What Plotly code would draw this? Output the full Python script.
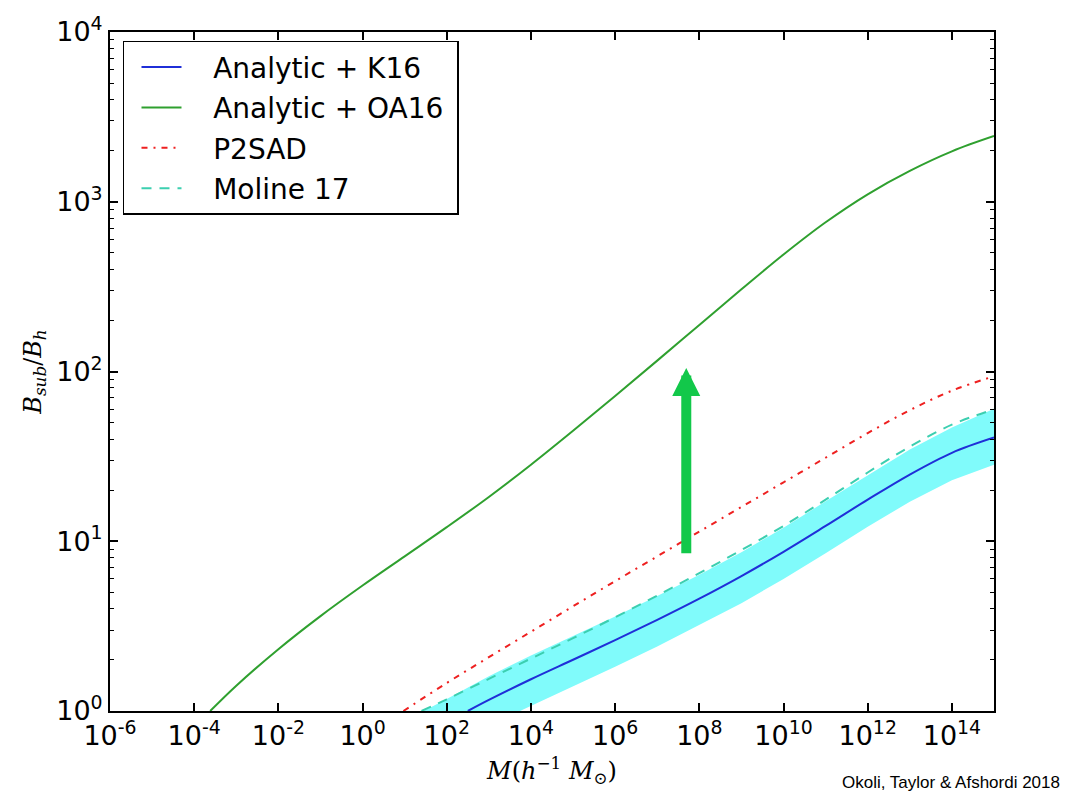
import plotly.graph_objects as go

# ---- data (log10 of M [h^-1 Msun] and log10 of B_sub/B_h) ----
oa16_logm = [-3.62, -3, -2, -1, 0, 1, 2, 3, 4, 5, 6, 7, 8, 9, 10, 11, 12, 13, 14, 15]
oa16_logb = [0.0, 0.149, 0.364, 0.559, 0.739, 0.911, 1.083, 1.261, 1.451, 1.651, 1.856, 2.064,
             2.274, 2.484, 2.689, 2.879, 3.044, 3.182, 3.297, 3.387]

k16_logm = [2.5, 3, 4, 5, 6, 7, 8, 9, 10, 11, 12, 13, 14, 15]
k16_logb = [0.0, 0.065, 0.187, 0.302, 0.417, 0.537, 0.662, 0.795, 0.938, 1.09, 1.245, 1.393, 1.521, 1.611]

band_up_logm = [1.45, 2, 3, 4, 5, 6, 7, 8, 9, 10, 11, 12, 13, 14, 15]
band_up_logb = [0.0, 0.07, 0.205, 0.327, 0.442, 0.557, 0.677, 0.802, 0.935, 1.08, 1.235, 1.39, 1.54, 1.67, 1.78]
band_lo_logm = [3.74, 4, 5, 6, 7, 8, 9, 10, 11, 12, 13, 14, 15]
band_lo_logb = [0.0, 0.03, 0.145, 0.26, 0.38, 0.505, 0.635, 0.778, 0.93, 1.085, 1.233, 1.36, 1.45]

p2sad_logm = [0.97, 2, 3, 4, 5, 6, 7, 8, 9, 10, 11, 12, 13, 14, 15]
p2sad_logb = [0.0, 0.165, 0.317, 0.467, 0.617, 0.765, 0.911, 1.057, 1.202, 1.347, 1.492, 1.637, 1.772, 1.887, 1.972]

moline_logm = [1.4, 2, 3, 4, 5, 6, 7, 8, 9, 10, 11, 12, 13, 14, 15]
moline_logb = [0.0, 0.069, 0.189, 0.309, 0.429, 0.552, 0.68, 0.812, 0.948, 1.09, 1.245, 1.405, 1.557, 1.687, 1.777]

series_names = ["Analytic + K16", "Analytic + OA16", "P2SAD", "Moline 17"]

x_tick_exp = [-6, -4, -2, 0, 2, 4, 6, 8, 10, 12, 14]
y_tick_exp = [0, 1, 2, 3, 4]

arrow_logm = 7.69
arrow_tail_logb = 0.92
arrow_head_logb = 2.02

credit = "Okoli, Taylor & Afshordi 2018"


def p10(v):
    return [10 ** a for a in v]


PAD = "\u00a0\u00a0\u00a0"
TAIL = "\u00a0"

fig = go.Figure()

# shaded band (cyan)
band_x = p10(band_up_logm) + p10(band_lo_logm[::-1])
band_y = p10(band_up_logb) + p10(band_lo_logb[::-1])
fig.add_trace(go.Scatter(x=band_x, y=band_y, fill="toself", fillcolor="#80fbfb",
                         line=dict(width=0, color="#80fbfb"), mode="lines",
                         showlegend=False, hoverinfo="skip"))

fig.add_trace(go.Scatter(x=p10(k16_logm), y=p10(k16_logb), mode="lines",
                         name=PAD + series_names[0] + TAIL, legendgroup="a",
                         line=dict(color="#1f2fd8", width=2, shape="spline", smoothing=1.0)))
fig.add_trace(go.Scatter(x=p10(oa16_logm), y=p10(oa16_logb), mode="lines",
                         name=PAD + series_names[1] + TAIL, legendgroup="b",
                         line=dict(color="#2fa02f", width=2, shape="spline", smoothing=1.0)))
fig.add_trace(go.Scatter(x=p10(p2sad_logm), y=p10(p2sad_logb), mode="lines",
                         name=PAD + series_names[2] + TAIL, legendgroup="c",
                         line=dict(color="#ee2020", width=2, dash="6px,6px,2px,6px",
                                   shape="spline", smoothing=1.0)))
fig.add_trace(go.Scatter(x=p10(moline_logm), y=p10(moline_logb), mode="lines",
                         name=PAD + series_names[3] + TAIL, legendgroup="d",
                         line=dict(color="#3ccfb0", width=2, dash="10px,8px",
                                   shape="spline", smoothing=1.0)))

minor_y = [m * 10 ** e for e in range(0, 4) for m in range(2, 10)]

axis_common = dict(showline=True, linecolor="black", linewidth=2, mirror="ticks",
                   ticks="inside", ticklen=8, tickwidth=1.5, tickcolor="black",
                   showgrid=False, zeroline=False,
                   tickfont=dict(family="DejaVu Sans", size=27, color="black"))

fig.update_xaxes(type="log", range=[-6, 15], tickmode="array",
                 tickvals=p10(x_tick_exp),
                 ticktext=["10<sup>%d</sup>" % e for e in x_tick_exp],
                 title=dict(text="<i>M</i>(<i>h</i><sup>−1</sup> <i>M</i><sub>⊙</sub>)",
                            font=dict(family="DejaVu Serif", size=24, color="black"),
                            standoff=12),
                 **axis_common)
fig.update_yaxes(type="log", range=[0, 4], tickmode="array",
                 tickvals=p10(y_tick_exp),
                 ticktext=["10<sup>%d</sup>" % e for e in y_tick_exp],
                 minor=dict(tickvals=minor_y, ticks="inside", ticklen=4, tickwidth=1.2,
                            tickcolor="black", showgrid=False),
                 title=dict(text="<i>B</i><sub><i>sub</i></sub>/<i>B</i><sub><i>h</i></sub>",
                            font=dict(family="DejaVu Serif", size=24, color="black"),
                            standoff=8),
                 **axis_common)

fig.add_annotation(x=arrow_logm, y=arrow_head_logb, ax=arrow_logm, ay=arrow_tail_logb,
                   xref="x", yref="y", axref="x", ayref="y", text="",
                   showarrow=True, arrowhead=2, arrowwidth=10, arrowsize=0.56,
                   arrowcolor="#12c84a")

fig.add_annotation(text=credit, xref="paper", yref="paper", x=1.0767, y=-0.105,
                   xanchor="right", yanchor="middle", showarrow=False,
                   font=dict(family="Liberation Sans", size=17, color="black"))

fig.update_layout(
    width=1065, height=804,
    margin=dict(l=110, r=71, t=25, b=93),
    paper_bgcolor="white", plot_bgcolor="white",
    legend=dict(x=0.0147, y=0.987, xanchor="left", yanchor="top",
                bgcolor="white", bordercolor="black", borderwidth=1.5,
                font=dict(family="DejaVu Sans", size=28, color="black"),
                tracegroupgap=1, itemwidth=40, indentation=12),
)

fig.write_html("out.html", config={"displayModeBar": False},
               post_script="document.body.style.margin='0';")
